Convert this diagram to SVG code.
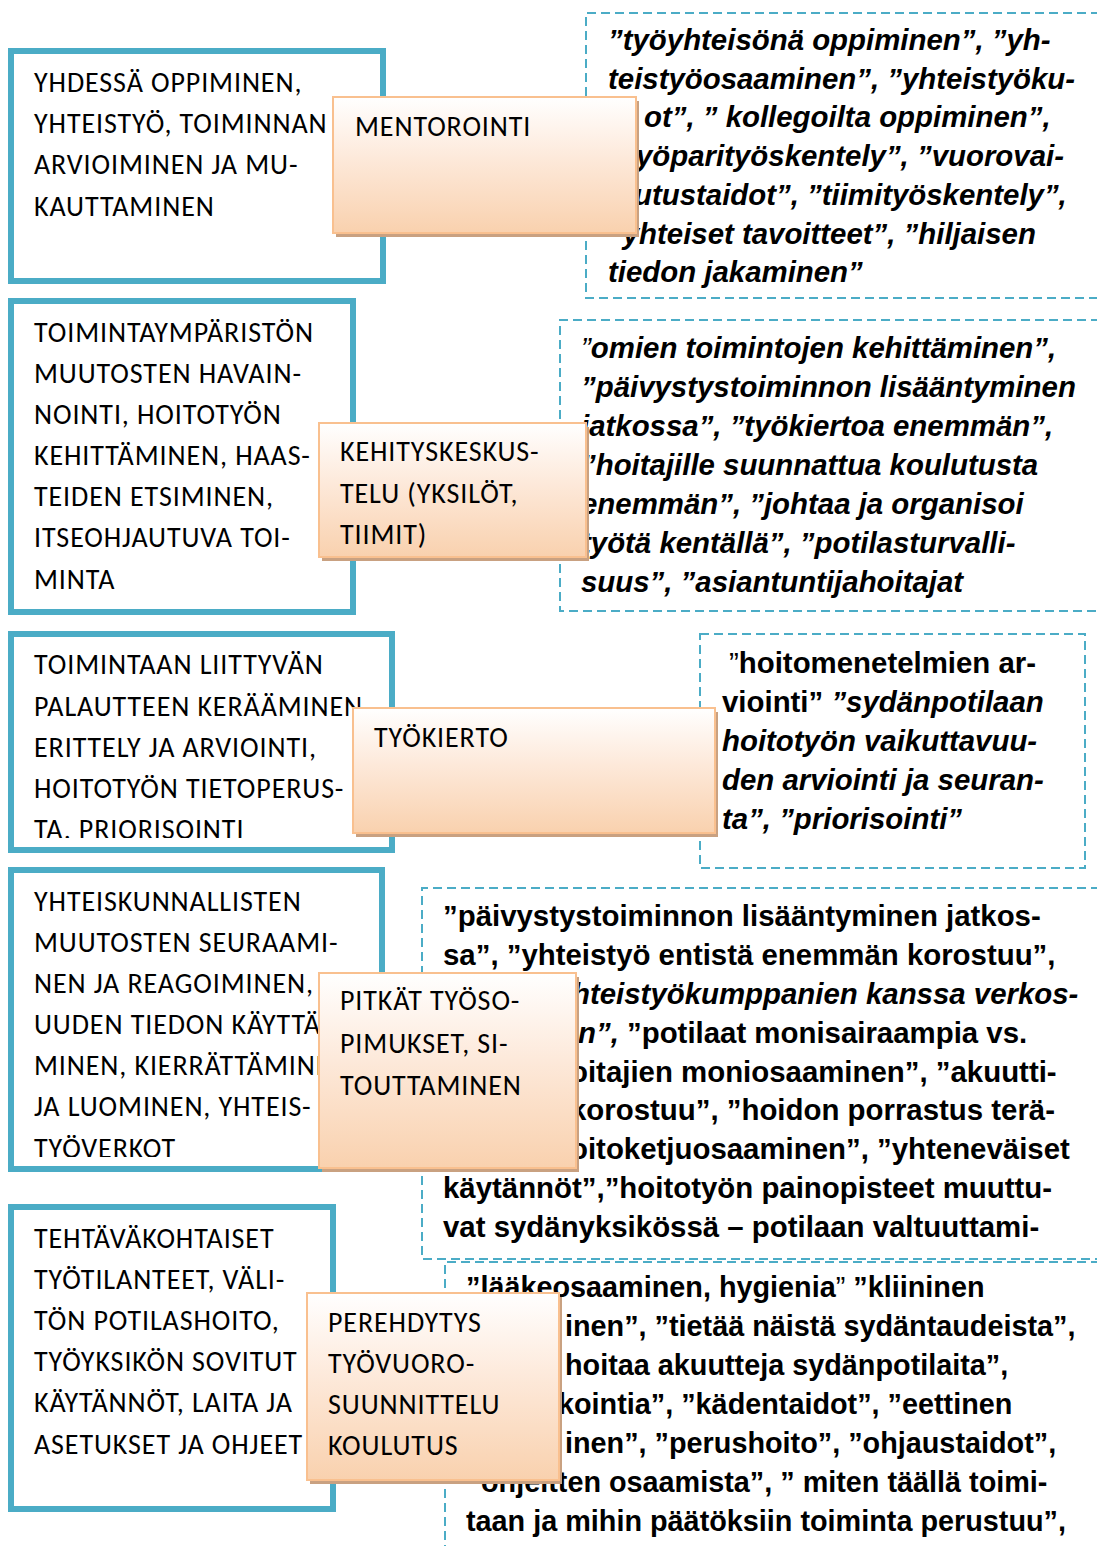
<svg xmlns="http://www.w3.org/2000/svg" width="1097" height="1546" viewBox="0 0 1097 1546">
<style>
.tb{fill:#fff;stroke:#4bacc6;stroke-width:6}
.db{fill:none;stroke:#4bacc6;stroke-width:2;stroke-dasharray:9 5}
.ob{fill:url(#og);stroke:#f9c08f;stroke-width:2}
.sh{fill:#c9a181}
.cal{font-family:Carlito,Lato,"Open Sans",sans-serif;font-size:28px;letter-spacing:0.9px;fill:#000}
.bi{font-family:"Liberation Sans",Arial,sans-serif;font-weight:bold;font-style:italic;font-size:29.4px;fill:#000}
.b{font-family:"Liberation Sans",Arial,sans-serif;font-weight:bold;font-size:29.4px;fill:#000}
.b5{font-family:"Liberation Sans",Arial,sans-serif;font-weight:bold;font-size:28.8px;fill:#000}
.n{font-style:normal}
.i{font-style:italic}
.lq{font-weight:normal}
</style>
<defs>
<linearGradient id="og" x1="0" y1="0" x2="0" y2="1">
<stop offset="0" stop-color="#ffffff"/>
<stop offset="0.45" stop-color="#fde9da"/>
<stop offset="1" stop-color="#f9d1ae"/>
</linearGradient>
<clipPath id="c3"><rect x="14" y="637" width="375" height="201"/></clipPath>
<clipPath id="c4"><rect x="14" y="873" width="365" height="284"/></clipPath>
</defs>
<rect width="1097" height="1546" fill="#fff"/>

<g id="source1">
<rect class="tb" x="11" y="51" width="372" height="230"/>
<text class="cal"><tspan x="34" y="92">YHDESSÄ OPPIMINEN,</tspan><tspan x="34" y="133">YHTEISTYÖ, TOIMINNAN</tspan><tspan x="34" y="174">ARVIOIMINEN JA MU-</tspan><tspan x="34" y="216">KAUTTAMINEN</tspan></text>
</g>
<g id="source2">
<rect class="tb" x="11" y="301" width="342" height="311"/>
<text class="cal"><tspan x="34" y="342">TOIMINTAYMPÄRISTÖN</tspan><tspan x="34" y="383">MUUTOSTEN HAVAIN-</tspan><tspan x="34" y="424">NOINTI, HOITOTYÖN</tspan><tspan x="34" y="465">KEHITTÄMINEN, HAAS-</tspan><tspan x="34" y="506">TEIDEN ETSIMINEN,</tspan><tspan x="34" y="547">ITSEOHJAUTUVA TOI-</tspan><tspan x="34" y="589">MINTA</tspan></text>
</g>
<g id="source3">
<rect class="tb" x="11" y="634" width="381" height="216"/>
<text class="cal" clip-path="url(#c3)"><tspan x="34" y="674">TOIMINTAAN LIITTYVÄN</tspan><tspan x="34" y="716">PALAUTTEEN KERÄÄMINEN</tspan><tspan x="34" y="757">ERITTELY JA ARVIOINTI,</tspan><tspan x="34" y="798">HOITOTYÖN TIETOPERUS-</tspan><tspan x="34" y="839">TA, PRIORISOINTI</tspan></text>
</g>
<g id="source4">
<rect class="tb" x="11" y="870" width="371" height="299"/>
<text class="cal" clip-path="url(#c4)"><tspan x="34" y="911">YHTEISKUNNALLISTEN</tspan><tspan x="34" y="952">MUUTOSTEN SEURAAMI-</tspan><tspan x="34" y="993">NEN JA REAGOIMINEN,</tspan><tspan x="34" y="1034">UUDEN TIEDON KÄYTTÄ-</tspan><tspan x="34" y="1075">MINEN, KIERRÄTTÄMINEN</tspan><tspan x="34" y="1116">JA LUOMINEN, YHTEIS-</tspan><tspan x="34" y="1158">TYÖVERKOT</tspan></text>
</g>
<g id="source5">
<rect class="tb" x="11" y="1207" width="322" height="302"/>
<text class="cal"><tspan x="34" y="1248">TEHTÄVÄKOHTAISET</tspan><tspan x="34" y="1289">TYÖTILANTEET, VÄLI-</tspan><tspan x="34" y="1330">TÖN POTILASHOITO,</tspan><tspan x="34" y="1371">TYÖYKSIKÖN SOVITUT</tspan><tspan x="34" y="1412">KÄYTÄNNÖT, LAITA JA</tspan><tspan x="34" y="1454">ASETUKSET JA OHJEET</tspan></text>
</g>

<g id="quotes1">
<path class="db" d="M1100 13 H586 V298 H1100"/>
<text class="bi"><tspan x="608" y="50">”työyhteisönä oppiminen”, ”yh-</tspan><tspan x="608" y="89">teistyöosaaminen”, ”yhteistyöku-</tspan><tspan x="644" y="127">ot”, ” kollegoilta oppiminen”,</tspan><tspan x="636" y="166">yöparityöskentely”, ”vuorovai-</tspan><tspan x="634" y="205">utustaidot”, ”tiimityöskentely”,</tspan><tspan x="608" y="244">”yhteiset tavoitteet”, ”hiljaisen</tspan><tspan x="608" y="282">tiedon jakaminen”</tspan></text>
</g>
<g id="quotes2">
<path class="db" d="M1100 320 H560 V611 H1100"/>
<text class="bi"><tspan x="581" y="358"><tspan class="lq">”</tspan>omien toimintojen kehittäminen”,</tspan><tspan x="581" y="397">”päivystystoiminnon lisääntyminen</tspan><tspan x="581" y="436">jatkossa”, ”työkiertoa enemmän”,</tspan><tspan x="581" y="475">”hoitajille suunnattua koulutusta</tspan><tspan x="581" y="514">enemmän”, ”johtaa ja organisoi</tspan><tspan x="581" y="553">työtä kentällä”, ”potilasturvalli-</tspan><tspan x="581" y="592">suus”, ”asiantuntijahoitajat</tspan></text>
</g>
<g id="quotes3">
<rect class="db" x="700" y="634" width="385" height="234"/>
<text class="b"><tspan x="729" y="673"><tspan class="lq">”</tspan>hoitomenetelmien ar-</tspan><tspan x="722" y="712">viointi” <tspan class="i">”sydänpotilaan</tspan></tspan></text>
<text class="bi"><tspan x="722" y="751">hoitotyön vaikuttavuu-</tspan><tspan x="722" y="790">den arviointi ja seuran-</tspan><tspan x="722" y="829">ta”, ”priorisointi”</tspan></text>
</g>
<g id="quotes4">
<path class="db" d="M1100 888 H422 V1259 H1100"/>
<text class="b"><tspan x="443" y="926">”päivystystoiminnon lisääntyminen jatkos-</tspan><tspan x="443" y="965">sa”, ”yhteistyö entistä enemmän korostuu”,</tspan><tspan x="572" y="1004" class="i">hteistyökumppanien kanssa verkos-</tspan><tspan x="578" y="1043"><tspan class="i">n”,</tspan> ”potilaat monisairaampia vs.</tspan><tspan x="570" y="1082">oitajien moniosaaminen”, ”akuutti-</tspan><tspan x="570" y="1120">korostuu”, ”hoidon porrastus terä-</tspan><tspan x="570" y="1159">oitoketjuosaaminen”, ”yhteneväiset</tspan><tspan x="443" y="1198">käytännöt”,”hoitotyön painopisteet muuttu-</tspan><tspan x="443" y="1237">vat sydänyksikössä – potilaan valtuuttami-</tspan></text>
</g>
<g id="quotes5">
<path class="db" d="M1100 1262 H445 V1550"/>
<text class="b5"><tspan x="466" y="1297">”lääkeosaaminen, hygienia<tspan class="lq">”</tspan> ”kliininen</tspan><tspan x="565" y="1336">inen”, ”tietää näistä sydäntaudeista”,</tspan><tspan x="565" y="1375">hoitaa akuutteja sydänpotilaita”,</tspan><tspan x="558" y="1414">kointia”, ”kädentaidot”, ”eettinen</tspan><tspan x="565" y="1453">inen”, ”perushoito”, ”ohjaustaidot”,</tspan><tspan x="481" y="1492">ohjeitten osaamista”, ” miten täällä toimi-</tspan><tspan x="466" y="1531">taan ja mihin päätöksiin toiminta perustuu”,</tspan></text>
</g>

<g id="method1">
<rect class="sh" x="336" y="101" width="303" height="136"/>
<rect class="ob" x="333" y="97" width="303" height="136"/>
<text class="cal" x="355" y="136">MENTOROINTI</text>
</g>
<g id="method2">
<rect class="sh" x="322" y="427" width="267" height="134"/>
<rect class="ob" x="319" y="423" width="267" height="134"/>
<text class="cal"><tspan x="340" y="461">KEHITYSKESKUS-</tspan><tspan x="340" y="503">TELU (YKSILÖT,</tspan><tspan x="340" y="544">TIIMIT)</tspan></text>
</g>
<g id="method3">
<rect class="sh" x="356" y="712" width="362" height="125"/>
<rect class="ob" x="353" y="708" width="362" height="125"/>
<text class="cal" x="374" y="747">TYÖKIERTO</text>
</g>
<g id="method4">
<rect class="sh" x="322" y="977" width="257" height="195"/>
<rect class="ob" x="319" y="973" width="257" height="195"/>
<text class="cal"><tspan x="340" y="1010">PITKÄT TYÖSO-</tspan><tspan x="340" y="1053">PIMUKSET, SI-</tspan><tspan x="340" y="1095">TOUTTAMINEN</tspan></text>
</g>
<g id="method5">
<rect class="sh" x="310" y="1297" width="252" height="187"/>
<rect class="ob" x="307" y="1293" width="252" height="187"/>
<text class="cal"><tspan x="328" y="1332">PEREHDYTYS</tspan><tspan x="328" y="1373">TYÖVUORO-</tspan><tspan x="328" y="1414">SUUNNITTELU</tspan><tspan x="328" y="1455">KOULUTUS</tspan></text>
</g>
<g id="connectors"/>
</svg>
